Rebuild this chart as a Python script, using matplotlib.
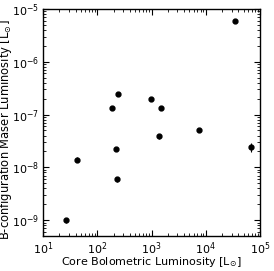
import numpy as np
import matplotlib
matplotlib.use("Agg")
import matplotlib.pyplot as plt

# core bolometric luminosity [Lsun] and B-config maser luminosity [Lsun]
lbol = [3.4e4, 240, 187, 966, 1515, 1350, 7530, 6.7e4, 225, 43, 228, 26.3]
lmaser = [5.9e-6, 2.45e-7, 1.35e-7, 2.0e-7, 1.35e-7, 3.85e-8, 5.0e-8,
          2.4e-8, 2.2e-8, 1.4e-8, 5.9e-9, 1.0e-9]
# fractional errors on maser luminosity
frac_err = [0.05, 0.08, 0.08, 0.08, 0.08, 0.1, 0.08, 0.2, 0.08, 0.1, 0.1, 0.1]

lbol = np.array(lbol)
lmaser = np.array(lmaser)
yerr = lmaser * np.array(frac_err)
xerr = lbol * 0.04

plt.rcParams['font.family'] = 'DejaVu Sans'
plt.rcParams['mathtext.default'] = 'regular'
fig = plt.figure(figsize=(2.74, 2.71), dpi=100)
ax = fig.add_axes([0.157, 0.129, 0.792, 0.838])

ax.errorbar(lbol, lmaser, yerr=yerr, xerr=xerr, fmt='o', color='black',
            ms=3.5, elinewidth=0.8, capsize=0)

ax.set_xscale('log')
ax.set_yscale('log')
ax.set_xlim(10, 1e5)
ax.set_ylim(5e-10, 1e-5)
ax.tick_params(which='both', direction='in', top=True, right=True, labelsize=8, pad=3)
ax.tick_params(which='major', length=4, width=0.8)
ax.tick_params(which='minor', length=2, width=0.6)
for s in ax.spines.values():
    s.set_linewidth(1.0)

ax.set_xlabel(r'Core Bolometric Luminosity [L$_{\odot}$]', fontsize=8, labelpad=-1)
ax.set_ylabel(r'B-configuration Maser Luminosity [L$_{\odot}$]', fontsize=8.3)
ax.yaxis.set_label_coords(-0.135, 0.47)

fig.savefig('out.png', dpi=100)
